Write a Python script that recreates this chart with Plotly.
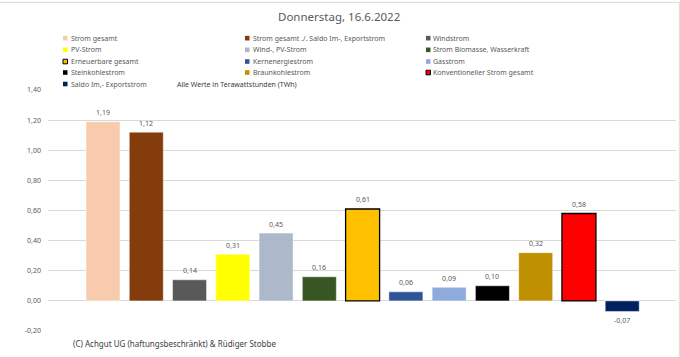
import plotly.graph_objects as go

# ---- data ----
series = [
    "Strom gesamt",
    "Strom gesamt ./. Saldo Im-, Exportstrom",
    "Windstrom",
    "PV-Strom",
    "Wind-, PV-Strom",
    "Strom Biomasse, Wasserkraft",
    "Erneuerbare gesamt",
    "Kernenergiestrom",
    "Gasstrom",
    "Steinkohlestrom",
    "Braunkohlestrom",
    "Konventioneller Strom gesamt",
    "Saldo Im,- Exportstrom",
]
values = [1.19, 1.12, 0.14, 0.31, 0.45, 0.16, 0.61, 0.06, 0.09, 0.10, 0.32, 0.58, -0.07]
colors = ["#F8CBAD", "#843C0C", "#595959", "#FFFF00", "#ADB9CA", "#375623",
          "#FFC000", "#2F5597", "#8FAADC", "#000000", "#BF9000", "#FF0000", "#002060"]
outlined = [False, False, False, False, False, False, True, False, False, False, False, True, False]
y_ticks = [-0.2, 0.0, 0.2, 0.4, 0.6, 0.8, 1.0, 1.2, 1.4]
y_tick_labels = ["-0,20", "0,00", "0,20", "0,40", "0,60", "0,80", "1,00", "1,20", "1,40"]

title_text = "Donnerstag, 16.6.2022"
note_text = "Alle Werte in Terawattstunden (TWh)"
footer_text = "(C) Achgut UG (haftungsbeschränkt) & Rüdiger Stobbe"

# ---- layout geometry ----
W, H = 680, 357
L, R, T, B = 48, 676, 90.2, 331.4
FONT = "Noto Sans"
GREY = "#595959"


def px(x):
    return (x - L) / (R - L)


def py(y):
    return (B - y) / (B - T)


fig = go.Figure()
for i, (name, v, c, o) in enumerate(zip(series, values, colors, outlined)):
    fig.add_trace(go.Bar(
        x=[i], y=[v], name=name, width=0.786,
        marker=dict(color=c, line=dict(color="#000000" if o else "rgba(255,255,255,0.6)",
                                       width=1.3 if o else 0.8)),
        showlegend=False, hoverinfo="skip",
    ))

annotations = []
for i, v in enumerate(values):
    annotations.append(dict(
        x=i, y=v, xref="x", yref="y",
        text=f"{v:.2f}".replace(".", ","),
        showarrow=False, yshift=9 if v >= 0 else -9,
        yanchor="middle", xanchor="center",
        font=dict(family=FONT, size=7, color=GREY),
    ))

# custom legend (3 columns)
col_x = [63, 245, 426]
row_y = [38.3, 50.0, 61.7, 72.7, 84.2]
shapes = []
for k, (name, c, o) in enumerate(zip(series, colors, outlined)):
    r, cl = divmod(k, 3)
    x0 = col_x[cl]
    yc = row_y[r]
    shapes.append(dict(
        type="rect", xref="paper", yref="paper",
        x0=px(x0), x1=px(x0 + 4.5), y0=py(yc + 2.3), y1=py(yc - 2.3),
        fillcolor=c, line=dict(color="#000000" if o else c, width=1 if o else 0),
    ))
    annotations.append(dict(
        x=px(x0 + 5.5), y=py(yc), xref="paper", yref="paper",
        text=name, showarrow=False, xanchor="left", yanchor="middle",
        font=dict(family=FONT, size=7, color=GREY),
    ))

annotations.append(dict(
    x=px(175), y=py(84.7), xref="paper", yref="paper", text=note_text,
    showarrow=False, xanchor="left", yanchor="middle",
    font=dict(family=FONT, size=7, color="#404040"),
))
annotations.append(dict(
    x=px(71), y=py(344), xref="paper", yref="paper", text=footer_text,
    showarrow=False, xanchor="left", yanchor="middle",
    font=dict(family=FONT, size=8, color="#404040"),
))
annotations.append(dict(
    x=px(339), y=py(16.5), xref="paper", yref="paper", text=title_text,
    showarrow=False, xanchor="center", yanchor="middle",
    font=dict(family=FONT, size=11.5, color=GREY),
))

# chart frame (top and right edge)
shapes.append(dict(type="line", xref="paper", yref="paper",
                   x0=px(0), x1=px(679.5), y0=py(2.5), y1=py(2.5),
                   line=dict(color="#D9D9D9", width=1)))
shapes.append(dict(type="line", xref="paper", yref="paper",
                   x0=px(679.3), x1=px(679.3), y0=py(2.5), y1=py(357),
                   line=dict(color="#D9D9D9", width=1)))

fig.update_layout(
    width=W, height=H,
    margin=dict(l=L, r=W - R, t=T, b=H - B, pad=0),
    paper_bgcolor="white", plot_bgcolor="white",
    barmode="overlay",
    showlegend=False,
    xaxis=dict(range=[-1.271, 13.243], showticklabels=False, showgrid=False,
               zeroline=False, showline=False, ticks=""),
    yaxis=dict(range=[-0.2, 1.4], tickvals=y_ticks, ticktext=y_tick_labels,
               showgrid=True, gridcolor="#D9D9D9", gridwidth=1,
               zeroline=True, zerolinecolor="#D9D9D9", zerolinewidth=1,
               showline=False, ticks="", ticklabelstandoff=6,
               tickfont=dict(family=FONT, size=7, color=GREY)),
    annotations=annotations,
    shapes=shapes,
)

fig.write_html(
    "out.html",
    config={"displayModeBar": False},
    post_script="document.body.style.margin='0';document.body.style.overflow='hidden';",
)
